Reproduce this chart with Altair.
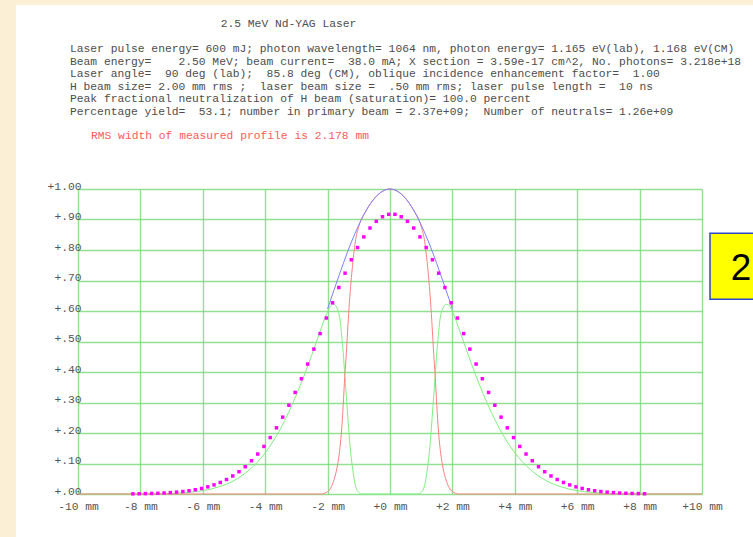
import altair as alt
import pandas as pd

# ---------------- data ----------------
dot_x = [-8.24, -8.04, -7.84, -7.64, -7.44, -7.24, -7.04, -6.84, -6.64, -6.44,
         -6.24, -6.04, -5.84, -5.64, -5.44, -5.24, -5.04, -4.84, -4.64, -4.44,
         -4.24, -4.04, -3.84, -3.64, -3.44, -3.24, -3.04, -2.84, -2.64, -2.44,
         -2.24, -2.04, -1.84, -1.64, -1.44, -1.24, -1.04, -0.84, -0.64, -0.44,
         -0.24, -0.04, 0.16, 0.36, 0.56, 0.76, 0.96, 1.16, 1.36, 1.56,
         1.76, 1.96, 2.16, 2.36, 2.56, 2.76, 2.96, 3.16, 3.36, 3.56,
         3.76, 3.96, 4.16, 4.36, 4.56, 4.76, 4.96, 5.16, 5.36, 5.56,
         5.76, 5.96, 6.16, 6.36, 6.56, 6.76, 6.96, 7.16, 7.36, 7.56,
         7.76, 7.96, 8.16]
dot_y = [0.0006, 0.0009, 0.0013, 0.0018, 0.0024, 0.0033, 0.0045, 0.0061, 0.0081, 0.0107,
         0.0140, 0.0182, 0.0234, 0.0299, 0.0378, 0.0475, 0.0592, 0.0731, 0.0895, 0.109,
         0.131, 0.156, 0.185, 0.217, 0.252, 0.291, 0.333, 0.378, 0.426, 0.475,
         0.526, 0.577, 0.627, 0.677, 0.724, 0.768, 0.808, 0.843, 0.872, 0.894,
         0.909, 0.917, 0.917, 0.909, 0.894, 0.872, 0.843, 0.808, 0.768, 0.724,
         0.677, 0.627, 0.577, 0.526, 0.475, 0.426, 0.378, 0.333, 0.291, 0.252,
         0.217, 0.185, 0.156, 0.131, 0.109, 0.0895, 0.0731, 0.0592, 0.0475, 0.0378,
         0.0299, 0.0234, 0.0182, 0.0140, 0.0107, 0.0081, 0.0061, 0.0045, 0.0033, 0.0024,
         0.0018, 0.0013, 0.0009]

blue_x = [-2.0, -1.75, -1.5, -1.25, -1.0, -0.75, -0.5, -0.25, 0.0,
          0.25, 0.5, 0.75, 1.0, 1.25, 1.5, 1.75, 2.0]
blue_y = [0.607, 0.682, 0.755, 0.823, 0.882, 0.932, 0.969, 0.992, 1.0,
          0.992, 0.969, 0.932, 0.882, 0.823, 0.755, 0.682, 0.607]

red_x = [-10.0, -2.2, -2.0, -1.9, -1.8, -1.7, -1.6, -1.55, -1.5, -1.45, -1.4, -1.35, -1.3,
         -1.2, -1.1, -1.0, -0.75, -0.5, -0.25, 0.0, 0.25, 0.5, 0.75, 1.0, 1.1, 1.2,
         1.3, 1.35, 1.4, 1.45, 1.5, 1.55, 1.6, 1.7, 1.8, 1.9, 2.0, 2.2, 10.0]
red_y = [0.0, 0.0, 0.008, 0.02, 0.045, 0.085, 0.155, 0.21, 0.29, 0.385, 0.46, 0.55, 0.63,
         0.75, 0.835, 0.877, 0.932, 0.969, 0.992, 1.0, 0.992, 0.969, 0.932, 0.877, 0.835, 0.75,
         0.63, 0.55, 0.46, 0.385, 0.29, 0.21, 0.155, 0.085, 0.045, 0.02, 0.008, 0.0, 0.0]

green_x = [-10.0, -8.0, -7.0, -6.5, -6.0, -5.5, -5.0, -4.5, -4.0, -3.5, -3.0, -2.75, -2.5,
           -2.25, -2.0, -1.9, -1.8, -1.7, -1.6, -1.55, -1.5, -1.45, -1.4, -1.35, -1.3,
           -1.2, -1.1, -1.0, -0.9, 0.0, 0.9, 1.0, 1.1, 1.2, 1.3, 1.35, 1.4, 1.45, 1.5,
           1.55, 1.6, 1.7, 1.8, 1.9, 2.0, 2.25, 2.5, 2.75, 3.0, 3.5, 4.0, 4.5, 5.0,
           5.5, 6.0, 6.5, 7.0, 8.0, 10.0]
green_y = [0.0, 0.0, 0.002, 0.005, 0.011, 0.023, 0.044, 0.080, 0.135, 0.216, 0.325, 0.389, 0.458,
           0.531, 0.598, 0.617, 0.622, 0.61, 0.57, 0.52, 0.465, 0.39, 0.32, 0.25, 0.18,
           0.085, 0.025, 0.005, 0.0, 0.0, 0.0, 0.005, 0.025, 0.085, 0.18, 0.25, 0.32, 0.39, 0.465,
           0.52, 0.57, 0.61, 0.622, 0.617, 0.598, 0.531, 0.458, 0.389, 0.325, 0.216, 0.135, 0.080, 0.044,
           0.023, 0.011, 0.005, 0.002, 0.0, 0.0]

x_ticks = [-10, -8, -6, -4, -2, 0, 2, 4, 6, 8, 10]
y_ticks = [0.0, 0.1, 0.2, 0.3, 0.4, 0.5, 0.6, 0.7, 0.8, 0.9, 1.0]

title_text = "2.5 MeV Nd-YAG Laser"
info_lines = [
    "Laser pulse energy= 600 mJ; photon wavelength= 1064 nm, photon energy= 1.165 eV(lab), 1.168 eV(CM)",
    "Beam energy=    2.50 MeV; beam current=  38.0 mA; X section = 3.59e-17 cm^2, No. photons= 3.218e+18",
    "Laser angle=  90 deg (lab);  85.8 deg (CM), oblique incidence enhancement factor=  1.00",
    "H beam size= 2.00 mm rms ;  laser beam size =  .50 mm rms; laser pulse length =  10 ns",
    "Peak fractional neutralization of H beam (saturation)= 100.0 percent",
    "Percentage yield=  53.1; number in primary beam = 2.37e+09;  Number of neutrals= 1.26e+09",
]
rms_text = "RMS width of measured profile is 2.178 mm"
badge_text = "2"

# ---------------- chart ----------------
MONO = "Liberation Mono"
FS = 11.3
NBSP = "\u00a0"


def keep_spaces(s):
    return s.replace(" ", NBSP)


x_scale = alt.Scale(domain=[-10, 10], nice=False, zero=False)
y_scale = alt.Scale(domain=[0, 1], nice=False, zero=False)

x_axis = alt.Axis(values=x_ticks, title="", grid=True, ticks=False, tickSize=0, domain=False,
                  labelExpr="(datum.value >= 0 ? '+' : '') + datum.value + '\u00a0mm'",
                  labelFont=MONO, labelFontSize=FS, labelColor="#555555",
                  labelPadding=6, labelFlush=False, labelOverlap=False)
y_axis = alt.Axis(values=y_ticks, title="", grid=True, ticks=False, tickSize=0, domain=False,
                  labelExpr="datum.value >= 1 ? '+1.00' : '+' + replace(format(datum.value, '.2f'), '0.', '.')",
                  labelFont=MONO, labelFontSize=FS, labelColor="#555555",
                  labelAlign="right", labelBaseline="alphabetic", labelPadding=-3,
                  labelFlush=False, labelOverlap=False)

one = pd.DataFrame({"k": [0]})
base = alt.Chart(one)

BEIGE = "#FBEFD6"
strip_left = base.mark_rect(fill=BEIGE).encode(
    x=alt.value(-80), x2=alt.value(-62), y=alt.value(-190), y2=alt.value(350))
strip_top = base.mark_rect(fill=BEIGE).encode(
    x=alt.value(-80), x2=alt.value(680), y=alt.value(-190), y2=alt.value(-184))


def line_layer(xs, ys, color):
    df = pd.DataFrame({"x": xs, "y": ys})
    return alt.Chart(df).mark_line(color=color, strokeWidth=1, interpolate="monotone").encode(
        x=alt.X("x:Q", scale=x_scale, axis=x_axis),
        y=alt.Y("y:Q", scale=y_scale, axis=y_axis))


green = line_layer(green_x, green_y, "#7FEF7F")
red = line_layer(red_x, red_y, "#FF8080")
blue = line_layer(blue_x, blue_y, "#8080FF")

dots = alt.Chart(pd.DataFrame({"x": dot_x, "y": dot_y})).mark_square(
    size=12, color="#FF00FF", opacity=1).encode(
    x=alt.X("x:Q", scale=x_scale, axis=x_axis),
    y=alt.Y("y:Q", scale=y_scale, axis=y_axis))

texts = [base.mark_text(text=keep_spaces(title_text), font=MONO, fontSize=FS, align="center",
                        baseline="middle", color="#4d4d4d").encode(
    x=alt.value(210.5), y=alt.value(-164.7))]
for i, line in enumerate(info_lines):
    texts.append(base.mark_text(text=keep_spaces(line), font=MONO, fontSize=FS, align="left",
                                baseline="middle", color="#4d4d4d").encode(
        x=alt.value(-8), y=alt.value(-139.7 + i * 12.47)))
texts.append(base.mark_text(text=keep_spaces(rms_text), font=MONO, fontSize=FS, align="left",
                            baseline="middle", color="#FF5A5A").encode(
    x=alt.value(13), y=alt.value(-53)))

badge = base.mark_rect(fill="#FFFF00", stroke="#2A48C8", strokeWidth=1.5).encode(
    x=alt.value(632), x2=alt.value(690), y=alt.value(44.3), y2=alt.value(110.3))
badge_label = base.mark_text(text=badge_text, font="Liberation Sans", fontSize=37,
                             align="center", baseline="alphabetic", color="#000000").encode(
    x=alt.value(663), y=alt.value(91))

chart = alt.layer(strip_left, strip_top, green, red, blue, dots, *texts, badge, badge_label).properties(
    width=624, height=305,
    padding={"left": 78, "top": 189, "right": 51, "bottom": 43},
    autosize=alt.AutoSizeParams(type="none"),
).configure(background="white").configure_view(stroke="transparent").configure_axis(
    gridColor="#6FD66F", gridWidth=1.4, gridOpacity=0.75)

chart.save("out.html", embed_options={"renderer": "svg", "actions": False})
